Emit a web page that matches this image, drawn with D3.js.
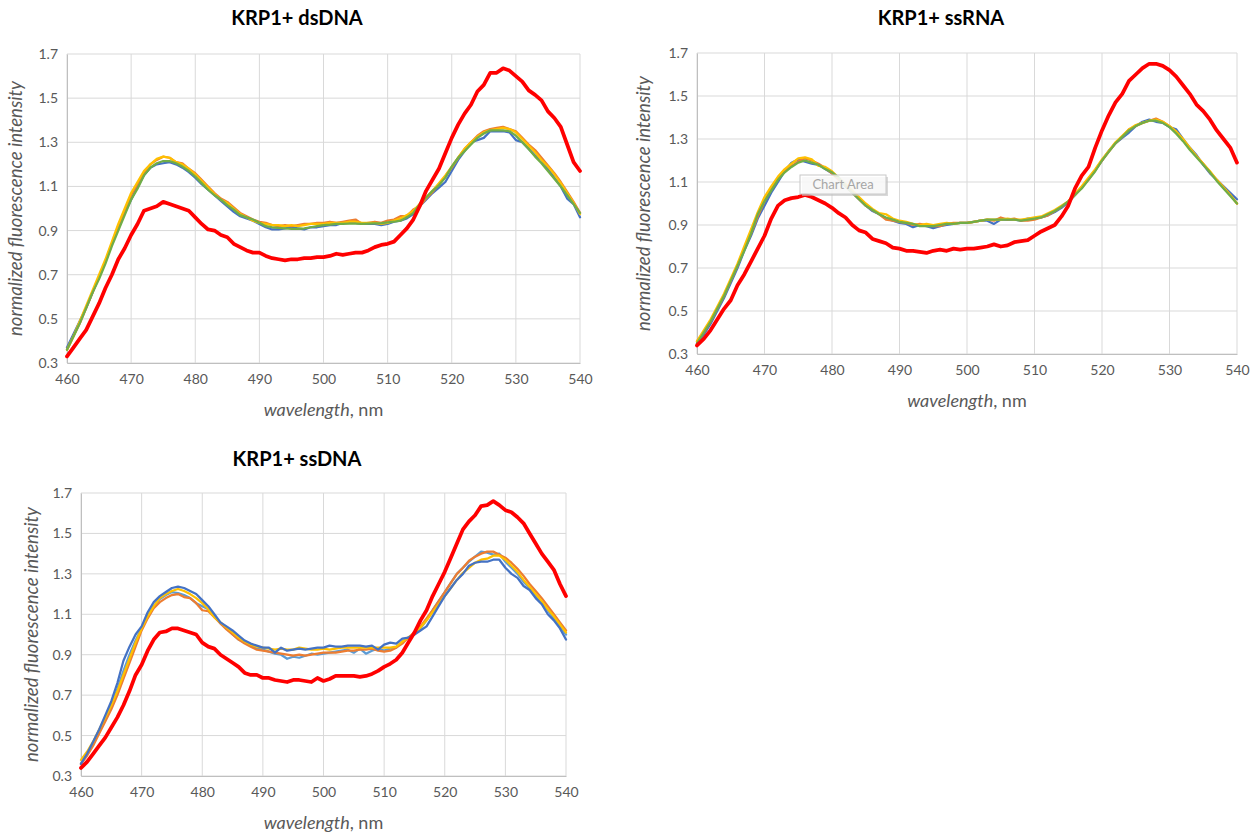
<!DOCTYPE html>
<html><head><meta charset="utf-8">
<script src="https://cdn.jsdelivr.net/npm/d3@7"></script>
<style>
body{margin:0;background:#fff;}
svg text{font-family:Lato,"Open Sans",sans-serif;}
</style></head>
<body><svg id="c" width="1258" height="835"></svg>
<script>
const wavelength = d3.range(460, 541, 1);
const xTicks = [460,470,480,490,500,510,520,530,540];
const yTicks = [0.3,0.5,0.7,0.9,1.1,1.3,1.5,1.7];
const titles = ["KRP1+ dsDNA","KRP1+ ssRNA","KRP1+ ssDNA"];

// ---- KRP1+ dsDNA ----
const dsBlue = [0.37,0.43,0.49,0.55,0.62,0.69,0.76,0.84,0.91,0.98, 1.04,1.10,1.15,1.185,1.20,1.205,1.21,1.20,1.185,1.165, 1.14,1.11,1.085,1.06,1.035,1.01,0.985,0.965,0.955,0.945, 0.93,0.915,0.905,0.905,0.91,0.915,0.91,0.905,0.915,0.915, 0.92,0.925,0.925,0.935,0.94,0.935,0.93,0.93,0.93,0.925, 0.93,0.94,0.945,0.955,0.975,1.01,1.04,1.07,1.095,1.12, 1.17,1.22,1.26,1.30,1.31,1.32,1.35,1.35,1.35,1.345, 1.31,1.30,1.27,1.24,1.22,1.18,1.14,1.10,1.045,1.02,0.96];
const dsOrange = [0.36,0.42,0.48,0.55,0.62,0.69,0.76,0.84,0.92,0.99, 1.06,1.11,1.16,1.20,1.22,1.235,1.23,1.21,1.205,1.18, 1.16,1.13,1.10,1.07,1.045,1.03,1.005,0.98,0.965,0.95, 0.94,0.935,0.925,0.92,0.925,0.92,0.925,0.93,0.93,0.935, 0.935,0.94,0.935,0.94,0.945,0.95,0.93,0.935,0.94,0.935, 0.945,0.95,0.965,0.965,0.995,1.01,1.045,1.075,1.11,1.145, 1.185,1.23,1.27,1.30,1.33,1.35,1.36,1.365,1.37,1.36, 1.35,1.32,1.29,1.265,1.23,1.195,1.16,1.12,1.075,1.03,0.98];
const dsYellow = [0.36,0.42,0.49,0.56,0.63,0.70,0.77,0.85,0.93,1.00, 1.07,1.12,1.17,1.20,1.225,1.235,1.23,1.21,1.20,1.18, 1.155,1.125,1.095,1.065,1.04,1.025,1.00,0.975,0.96,0.945, 0.935,0.93,0.925,0.925,0.92,0.925,0.92,0.925,0.93,0.93, 0.93,0.935,0.935,0.935,0.94,0.94,0.935,0.935,0.935,0.93, 0.935,0.945,0.955,0.97,0.99,1.02,1.05,1.08,1.115,1.15, 1.19,1.23,1.27,1.30,1.325,1.345,1.355,1.36,1.365,1.36, 1.345,1.315,1.285,1.255,1.22,1.19,1.155,1.115,1.07,1.025,0.975];
const dsGreen = [0.36,0.42,0.48,0.55,0.62,0.68,0.75,0.83,0.90,0.97, 1.04,1.09,1.15,1.185,1.205,1.215,1.215,1.205,1.19,1.17, 1.145,1.115,1.085,1.06,1.04,1.015,0.995,0.97,0.96,0.95, 0.935,0.92,0.915,0.912,0.91,0.908,0.908,0.91,0.915,0.92, 0.925,0.927,0.93,0.93,0.932,0.932,0.93,0.932,0.933,0.934, 0.937,0.94,0.945,0.96,0.98,1.02,1.05,1.08,1.105,1.14, 1.19,1.23,1.26,1.29,1.32,1.34,1.354,1.354,1.354,1.35, 1.33,1.30,1.27,1.235,1.205,1.17,1.135,1.10,1.06,1.02,0.98];
const dsRed = [0.33,0.37,0.41,0.45,0.51,0.57,0.64,0.70,0.77,0.82, 0.88,0.93,0.99,1.00,1.01,1.03,1.02,1.01,1.00,0.99, 0.96,0.93,0.905,0.90,0.88,0.87,0.84,0.825,0.81,0.80, 0.80,0.785,0.775,0.77,0.765,0.77,0.77,0.775,0.775,0.78, 0.78,0.785,0.795,0.79,0.795,0.80,0.80,0.81,0.825,0.835, 0.84,0.85,0.88,0.91,0.95,1.01,1.08,1.13,1.18,1.25, 1.32,1.38,1.43,1.47,1.53,1.56,1.615,1.615,1.635,1.625, 1.60,1.575,1.535,1.515,1.49,1.44,1.41,1.37,1.29,1.21,1.17];

// ---- KRP1+ ssRNA ----
const rnaBlue = [0.35,0.39,0.44,0.50,0.56,0.63,0.70,0.78,0.85,0.93, 0.99,1.05,1.10,1.15,1.19,1.205,1.195,1.185,1.18,1.16, 1.14,1.115,1.08,1.05,1.02,0.99,0.965,0.95,0.93,0.92, 0.91,0.905,0.89,0.90,0.895,0.885,0.895,0.90,0.905,0.91, 0.91,0.915,0.92,0.92,0.905,0.925,0.925,0.925,0.92,0.93, 0.93,0.935,0.945,0.96,0.98,1.005,1.04,1.075,1.115,1.155, 1.20,1.245,1.28,1.305,1.33,1.36,1.38,1.39,1.38,1.375, 1.355,1.345,1.30,1.26,1.225,1.18,1.14,1.11,1.08,1.05,1.02];
const rnaOrange = [0.36,0.40,0.45,0.51,0.57,0.64,0.71,0.79,0.86,0.94, 1.01,1.07,1.12,1.155,1.175,1.195,1.21,1.20,1.185,1.165, 1.14,1.11,1.08,1.05,1.02,0.99,0.97,0.95,0.925,0.92, 0.915,0.91,0.90,0.905,0.90,0.895,0.895,0.905,0.91,0.91, 0.91,0.915,0.92,0.925,0.92,0.935,0.925,0.93,0.92,0.92, 0.925,0.935,0.945,0.965,0.985,1.01,1.04,1.075,1.11,1.155, 1.20,1.24,1.28,1.31,1.345,1.36,1.375,1.385,1.395,1.38, 1.36,1.33,1.295,1.255,1.22,1.185,1.145,1.11,1.075,1.04,1.00];
const rnaYellow = [0.36,0.41,0.46,0.52,0.58,0.65,0.72,0.80,0.88,0.96, 1.03,1.08,1.125,1.16,1.185,1.21,1.215,1.205,1.175,1.17, 1.15,1.12,1.09,1.06,1.03,1.00,0.975,0.955,0.95,0.93, 0.92,0.915,0.905,0.90,0.905,0.90,0.905,0.91,0.905,0.91, 0.91,0.915,0.92,0.925,0.925,0.925,0.93,0.925,0.925,0.93, 0.935,0.94,0.955,0.97,0.99,1.01,1.045,1.08,1.12,1.16, 1.205,1.245,1.285,1.315,1.345,1.365,1.375,1.385,1.39,1.38, 1.36,1.335,1.30,1.26,1.22,1.185,1.15,1.11,1.075,1.04,1.00];
const rnaGreen = [0.35,0.40,0.45,0.51,0.57,0.64,0.71,0.78,0.86,0.95, 1.01,1.06,1.11,1.145,1.17,1.19,1.20,1.19,1.18,1.16, 1.145,1.12,1.08,1.05,1.02,0.99,0.97,0.95,0.935,0.925, 0.915,0.91,0.905,0.895,0.895,0.895,0.90,0.905,0.905,0.91, 0.91,0.915,0.92,0.925,0.925,0.925,0.925,0.925,0.92,0.925, 0.93,0.935,0.95,0.965,0.985,1.01,1.04,1.07,1.11,1.15, 1.20,1.24,1.28,1.31,1.34,1.36,1.375,1.385,1.385,1.375, 1.355,1.325,1.29,1.25,1.215,1.18,1.145,1.105,1.07,1.035,1.00];
const rnaRed = [0.34,0.37,0.41,0.46,0.51,0.55,0.62,0.67,0.73,0.79, 0.85,0.93,0.99,1.015,1.025,1.03,1.04,1.03,1.015,1.00, 0.98,0.955,0.935,0.90,0.875,0.865,0.835,0.825,0.815,0.795, 0.79,0.78,0.78,0.775,0.77,0.78,0.785,0.78,0.79,0.785, 0.79,0.79,0.795,0.80,0.81,0.80,0.805,0.82,0.825,0.83, 0.85,0.87,0.885,0.90,0.94,0.99,1.07,1.13,1.17,1.26, 1.34,1.41,1.47,1.51,1.57,1.60,1.63,1.65,1.65,1.64, 1.62,1.59,1.55,1.51,1.46,1.43,1.39,1.34,1.30,1.26,1.19];

// ---- KRP1+ ssDNA ----
const ssLightBlue = [0.36,0.41,0.46,0.52,0.58,0.65,0.73,0.82,0.90,0.97, 1.03,1.09,1.14,1.175,1.195,1.21,1.205,1.195,1.18,1.155, 1.14,1.125,1.09,1.055,1.03,1.00,0.975,0.96,0.945,0.93, 0.925,0.915,0.905,0.90,0.88,0.89,0.885,0.895,0.905,0.90, 0.905,0.91,0.915,0.92,0.925,0.91,0.93,0.905,0.92,0.93, 0.92,0.93,0.935,0.965,0.985,1.00,1.03,1.07,1.12,1.165, 1.21,1.255,1.30,1.33,1.36,1.385,1.41,1.405,1.395,1.40, 1.36,1.33,1.30,1.26,1.23,1.19,1.16,1.12,1.08,1.04,1.00];
const ssOrange = [0.36,0.40,0.45,0.51,0.57,0.63,0.70,0.78,0.86,0.94, 1.02,1.08,1.13,1.16,1.18,1.195,1.20,1.185,1.18,1.155, 1.12,1.115,1.085,1.055,1.025,1.00,0.975,0.955,0.94,0.925, 0.92,0.915,0.91,0.905,0.90,0.895,0.90,0.895,0.90,0.905, 0.91,0.91,0.91,0.915,0.92,0.92,0.925,0.925,0.93,0.92, 0.915,0.92,0.935,0.955,0.985,1.01,1.04,1.08,1.12,1.165, 1.21,1.255,1.30,1.33,1.365,1.385,1.40,1.41,1.41,1.395, 1.38,1.355,1.325,1.29,1.25,1.215,1.18,1.14,1.10,1.06,1.02];
const ssYellow = [0.38,0.42,0.47,0.53,0.59,0.65,0.72,0.80,0.88,0.96, 1.03,1.09,1.14,1.18,1.20,1.215,1.225,1.215,1.20,1.18, 1.155,1.125,1.085,1.06,1.035,1.01,0.985,0.965,0.95,0.94, 0.935,0.93,0.925,0.93,0.925,0.925,0.935,0.93,0.925,0.925, 0.93,0.925,0.93,0.935,0.935,0.935,0.935,0.935,0.935,0.935, 0.935,0.935,0.94,0.965,0.985,1.005,1.035,1.07,1.11,1.15, 1.19,1.23,1.27,1.305,1.33,1.355,1.37,1.375,1.39,1.39, 1.37,1.34,1.31,1.27,1.235,1.20,1.165,1.125,1.09,1.05,1.01];
const ssBlue = [0.36,0.41,0.47,0.53,0.60,0.67,0.76,0.87,0.94,1.00, 1.04,1.11,1.16,1.19,1.21,1.23,1.237,1.23,1.215,1.20, 1.17,1.14,1.10,1.06,1.04,1.02,0.995,0.97,0.955,0.945, 0.935,0.935,0.91,0.935,0.92,0.925,0.93,0.925,0.93,0.935, 0.935,0.945,0.94,0.94,0.945,0.945,0.945,0.94,0.945,0.925, 0.95,0.96,0.955,0.98,0.985,1.00,1.02,1.04,1.09,1.14, 1.19,1.23,1.27,1.30,1.34,1.355,1.36,1.36,1.37,1.37, 1.33,1.30,1.28,1.24,1.22,1.18,1.15,1.10,1.07,1.03,0.975];
const ssRed = [0.34,0.37,0.41,0.45,0.49,0.54,0.59,0.65,0.72,0.80, 0.85,0.92,0.975,1.01,1.015,1.03,1.03,1.02,1.01,1.00, 0.96,0.94,0.93,0.90,0.88,0.86,0.84,0.81,0.80,0.80, 0.785,0.785,0.775,0.77,0.765,0.775,0.775,0.77,0.765,0.785, 0.77,0.78,0.795,0.795,0.795,0.795,0.79,0.795,0.805,0.82, 0.84,0.855,0.875,0.91,0.96,1.01,1.07,1.12,1.19,1.25, 1.31,1.38,1.45,1.52,1.56,1.59,1.635,1.64,1.66,1.64, 1.615,1.605,1.58,1.55,1.50,1.45,1.40,1.36,1.32,1.25,1.19];

const C = {blue:"#4472C4", orange:"#ED7D31", yellow:"#FFC000", green:"#70AD47", light:"#5B9BD5", red:"#FF0000"};

const charts = [
  {title:titles[0], box:{l:67,r:580,t:54,b:363}, titleX:297, titleY:25, ytX:22,
   series:[[dsBlue,C.blue],[dsOrange,C.orange],[dsYellow,C.yellow],[dsGreen,C.green],[dsRed,C.red]]},
  {title:titles[1], box:{l:697,r:1237,t:53,b:354}, titleX:941, titleY:25, ytX:650,
   series:[[rnaBlue,C.blue],[rnaOrange,C.orange],[rnaYellow,C.yellow],[rnaGreen,C.green],[rnaRed,C.red]]},
  {title:titles[2], box:{l:81,r:566,t:493,b:776}, titleX:297, titleY:466, ytX:38,
   series:[[ssLightBlue,C.light],[ssOrange,C.orange],[ssYellow,C.yellow],[ssBlue,C.blue],[ssRed,C.red]]}
];

const svg = d3.select("#c");
charts.forEach(ch => {
  const b = ch.box;
  const x = d3.scaleLinear().domain([460,540]).range([b.l,b.r]);
  const y = d3.scaleLinear().domain([0.3,1.7]).range([b.b,b.t]);
  const g = svg.append("g");
  g.append("g").selectAll("line").data(xTicks).join("line")
    .attr("x1",d=>x(d)).attr("x2",d=>x(d)).attr("y1",b.t).attr("y2",b.b)
    .attr("stroke","#d9d9d9").attr("stroke-width",1);
  g.append("g").selectAll("line").data(yTicks).join("line")
    .attr("x1",b.l).attr("x2",b.r).attr("y1",d=>y(d)).attr("y2",d=>y(d))
    .attr("stroke","#d9d9d9").attr("stroke-width",1);
  const xa = g.append("g").attr("transform",`translate(0,${b.b})`)
    .call(d3.axisBottom(x).tickValues(xTicks).tickSize(0).tickPadding(11).tickFormat(d3.format("d")));
  const ya = g.append("g").attr("transform",`translate(${b.l},0)`)
    .call(d3.axisLeft(y).tickValues(yTicks).tickSize(0).tickPadding(9).tickFormat(d3.format(".1f")));
  [xa,ya].forEach(a=>{a.select(".domain").attr("stroke","#bfbfbf");
    a.selectAll("text").attr("fill","#595959").style("font-size","14px").style("font-family","Lato,'Open Sans',sans-serif");});
  const line = d3.line().x((d,i)=>x(wavelength[i])).y(d=>y(d));
  ch.series.forEach(([vals,col]) => {
    g.append("path").datum(vals).attr("d",line).attr("fill","none")
      .attr("stroke",col).attr("stroke-width",col===C.red?3.75:2.25)
      .attr("stroke-linejoin","round").attr("stroke-linecap","round");
  });
  g.append("text").attr("x",ch.titleX).attr("y",ch.titleY).attr("text-anchor","middle")
    .attr("font-weight","bold").attr("font-size","20px").attr("fill","#000").text(ch.title);
  const xt = g.append("text").attr("x",(b.l+b.r)/2).attr("y",b.b+53).attr("text-anchor","middle")
    .attr("font-size","18px").attr("fill","#595959");
  xt.append("tspan").attr("font-style","italic").text("wavelength");
  xt.append("tspan").text(", nm");
  g.append("text").attr("transform",`translate(${ch.ytX},${(b.t+b.b)/2}) rotate(-90)`)
    .attr("text-anchor","middle").attr("font-size","18.5px").attr("font-style","italic")
    .attr("fill","#595959").text("normalized fluorescence intensity");
});

// "Chart Area" tooltip on the ssRNA chart
const tip = svg.append("g").attr("transform","translate(800,175)");
tip.append("rect").attr("x",2).attr("y",2).attr("width",86).attr("height",19).attr("fill","#bfbfbf").attr("opacity",0.6);
tip.append("rect").attr("width",86).attr("height",19).attr("fill","#fff").attr("fill-opacity",0.8).attr("stroke","#c8c8c8");
tip.append("text").attr("x",43).attr("y",14).attr("text-anchor","middle").attr("font-size","13px").attr("fill","#a6a6a6").text("Chart Area");
</script></body></html>
